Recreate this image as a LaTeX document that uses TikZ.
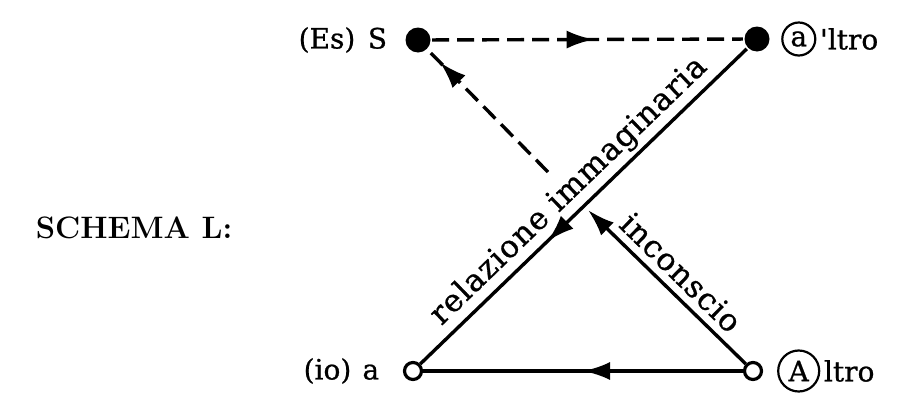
\documentclass[tikz,border=0pt]{standalone}
\usepackage{fontspec}
\usepackage{tikz}
\usetikzlibrary{arrows.meta,positioning,decorations.markings}
\newfontfamily\lblfont[FakeBold=0.8]{DejaVu Serif}
\newfontfamily\slopefont[FakeBold=0.8,LetterSpace=3]{DejaVu Serif}
\tikzset{
  blackdot/.style={circle, fill=black, inner sep=0pt, minimum size=25pt},
  whitedot/.style={circle, draw, fill=white, line width=3.2pt, inner sep=0pt, minimum size=17pt},
  ringed/.style={circle, draw, line width=2.2pt, inner sep=0pt, font=\lblfont\fontsize{28}{32}\selectfont},
  lbl/.style={inner sep=0pt, font=\lblfont\fontsize{28}{32}\selectfont},
  slopelbl/.style={inner sep=0pt, sloped, font=\slopefont\fontsize{31}{34}\selectfont},
  dashline/.style={dash pattern=on 17pt off 8pt},
  midtip/.style={postaction={decorate, decoration={markings,
      mark=at position #1 with {\arrow{Latex[length=27pt,width=18pt]}}}}},
}

\begin{document}
\begin{tikzpicture}[x=1pt, y=-1pt, line width=3.4pt, >={Latex[length=27pt,width=18pt]}]
\useasboundingbox (0,0) rectangle (906,402);
% the four corners
\node[blackdot] (S) at (418,40) {};
\node[blackdot] (altro) at (757,39) {};
\node[whitedot] (a) at (413,371) {};
\node[whitedot] (A) at (753,371) {};
\coordinate (cross) at (548,172);
\coordinate (uncon) at (588,210);

% corner labels
\node[lbl, left=15pt of S] (Slab) {(Es)\hspace{0.45em}S};
\node[lbl, left=22pt of a] (alab) {(io)\hspace{0.4em}a};
\node[ringed, minimum size=33pt, right=10pt of altro] (ringa) {a};
\node[lbl, right=2pt of ringa] (altrolab) {'ltro};
\node[ringed, minimum size=41pt, right=14pt of A] (ringA) {A};
\node[lbl, right=2pt of ringA] (Altrolab) {ltro};

% title
\node[font=\bfseries\fontsize{31}{34}\selectfont] (title) at (134,228) {SCHEMA L:};

% connectors
\draw[dashline, midtip=0.52] (S) -- (altro);
\draw[midtip=0.5] (A) -- (a);
\draw[midtip=0.61] (altro) -- (a)
  node[slopelbl, pos=0.5, above=4pt] {relazione immaginaria};
\draw[dashline, midtip=0.9] (cross) -- (S);
\draw[->] (A) -- (uncon)
  node[slopelbl, midway, above=7pt] {inconscio};
\end{tikzpicture}
\end{document}
